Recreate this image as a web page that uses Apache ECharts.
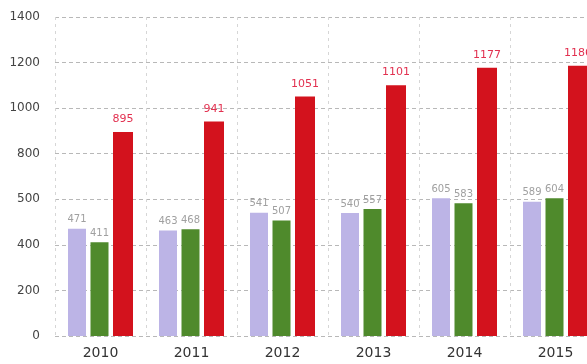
<!DOCTYPE html>
<html>
<head>
<meta charset="utf-8">
<script src="https://cdn.jsdelivr.net/npm/echarts@6/dist/echarts.min.js"></script>
<style>
  html, body { margin: 0; padding: 0; background: #fff; overflow: hidden; }
  #chart { width: 620px; height: 364px; }
</style>
</head>
<body>
<div id="chart"></div>
<script>
// Yearly figures, three series per year
const years = ['2010', '2011', '2012', '2013', '2014', '2015'];
const seriesLavender = [471, 463, 541, 540, 605, 589];
const seriesGreen = [411, 468, 507, 557, 583, 604];
const seriesRed = [895, 941, 1051, 1101, 1177, 1186];

// Printed value-axis labels, one per 200 step from 0
const yTickLabels = ['0', '200', '400', '500', '800', '1000', '1200', '1400'];

const chart = echarts.init(document.getElementById('chart'), null, { renderer: 'canvas' });

const gridLine = { show: true, lineStyle: { color: '#a0a0a0', type: [4, 3], width: 1, opacity: 0.75 } };

const smallLabel = {
  show: true,
  position: 'top',
  distance: 4,
  color: '#a0a0a0',
  fontSize: 10,
  fontFamily: 'DejaVu Sans'
};

chart.setOption({
  animation: false,
  backgroundColor: '#ffffff',
  // the last band runs past the visible right edge
  grid: { left: 55, top: 17, right: 19, bottom: 28, containLabel: false },
  xAxis: {
    type: 'category',
    data: years,
    axisLine: { show: false },
    axisTick: { show: false },
    axisLabel: {
      color: '#333',
      fontSize: 14,
      fontFamily: 'DejaVu Sans',
      margin: 10
    },
    splitLine: { show: true, lineStyle: { color: '#d6d6d6', type: [3, 4], width: 1 } }
  },
  yAxis: {
    type: 'value',
    min: 0,
    max: 1400,
    interval: 200,
    axisLine: { show: false },
    axisTick: { show: false },
    axisLabel: {
      color: '#444',
      fontSize: 12,
      fontFamily: 'DejaVu Sans',
      margin: 15,
      formatter: function (value) {
        const i = Math.round(Number(value) / 200);
        return yTickLabels[i] !== undefined ? yTickLabels[i] : String(value);
      }
    },
    splitLine: gridLine
  },
  series: [
    {
      type: 'bar',
      data: seriesLavender,
      barWidth: 18,
      barGap: '25%',
      itemStyle: { color: '#bcb4e6' },
      label: smallLabel
    },
    {
      type: 'bar',
      data: seriesGreen,
      barWidth: 18,
      barGap: '25%',
      itemStyle: { color: '#4f8a2c' },
      label: smallLabel
    },
    {
      type: 'bar',
      data: seriesRed,
      barWidth: 20,
      barGap: '25%',
      itemStyle: { color: '#d3121d' },
      label: {
        show: true,
        position: 'top',
        distance: 7,
        color: '#e23150',
        fontSize: 11,
        fontFamily: 'DejaVu Sans'
      }
    }
  ]
});
</script>
</body>
</html>
